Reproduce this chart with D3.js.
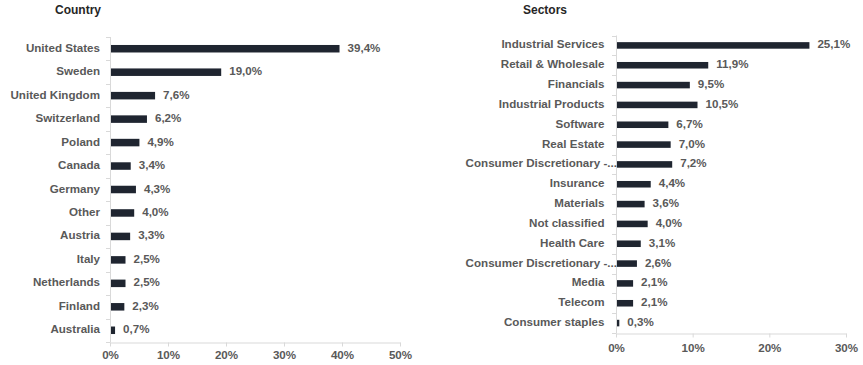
<!DOCTYPE html>
<html>
<head>
<meta charset="utf-8">
<script src="https://cdn.jsdelivr.net/npm/d3@7"></script>
<style>
  html, body { margin: 0; padding: 0; background: #ffffff; }
  svg { display: block; }
  text { font-family: "Liberation Sans", Arial, sans-serif; font-weight: bold; }
</style>
</head>
<body>
<svg id="chart" width="863" height="365"></svg>
<script>
// ---- data ----
const countryTitle = "Country";
const countries = ["United States", "Sweden", "United Kingdom", "Switzerland", "Poland", "Canada", "Germany", "Other", "Austria", "Italy", "Netherlands", "Finland", "Australia"];
const countryValues = [39.4, 19.0, 7.6, 6.2, 4.9, 3.4, 4.3, 4.0, 3.3, 2.5, 2.5, 2.3, 0.7];
const countryTicks = [0, 10, 20, 30, 40, 50];

const sectorTitle = "Sectors";
const sectors = ["Industrial Services", "Retail & Wholesale", "Financials", "Industrial Products", "Software", "Real Estate", "Consumer Discretionary -...", "Insurance", "Materials", "Not classified", "Health Care", "Consumer Discretionary -... ", "Media", "Telecom", "Consumer staples"];
const sectorValues = [25.1, 11.9, 9.5, 10.5, 6.7, 7.0, 7.2, 4.4, 3.6, 4.0, 3.1, 2.6, 2.1, 2.1, 0.3];
const sectorTicks = [0, 10, 20, 30];

const BAR = "#1f2530";
const LABEL = "#595959";
const TITLE = "#262626";
const AXIS = "#d9d9d9";
const FS = "11.6px";

const svg = d3.select("#chart");
const fmt = v => d3.format(".1f")(v).replace(".", ",") + "%";

function panel(opts) {
  const g = svg.append("g");
  const x = d3.scaleLinear().domain([0, opts.max]).range([opts.x0, opts.x1]);
  const y = d3.scaleBand().domain(opts.cats).range([opts.y0, opts.y1])
    .paddingInner(opts.pad).paddingOuter(opts.pad / 2);
  const step = y.step();

  // title
  g.append("text").attr("x", opts.titleX).attr("y", 11)
    .attr("dominant-baseline", "middle").attr("fill", TITLE)
    .style("font-size", "12px").text(opts.title);

  // vertical axis line
  g.append("line").attr("x1", opts.x0 + 0.5).attr("x2", opts.x0 + 0.5)
    .attr("y1", opts.y0).attr("y2", opts.y1).attr("stroke", AXIS);
  // category tick marks at band boundaries
  const bounds = d3.range(opts.cats.length + 1).map(i => opts.y0 + i * step);
  g.selectAll(".ct").data(bounds).join("line")
    .attr("x1", opts.x0 - 4).attr("x2", opts.x0 + 0.5)
    .attr("y1", d => Math.round(d) + 0.5).attr("y2", d => Math.round(d) + 0.5)
    .attr("stroke", AXIS);

  // horizontal axis
  const ax = g.append("g").attr("transform", `translate(0,${Math.round(opts.y1) + 0.5})`)
    .call(d3.axisBottom(x).tickValues(opts.ticks).tickSize(4).tickSizeOuter(0)
      .tickFormat(d => d + "%"));
  ax.select(".domain").attr("stroke", AXIS);
  ax.selectAll(".tick line").attr("stroke", AXIS);
  ax.selectAll(".tick text").attr("fill", LABEL).style("font-size", FS)
    .style("font-family", "'Liberation Sans', Arial, sans-serif").style("font-weight", "bold")
    .attr("y", opts.tickY - opts.y1).attr("dy", "0.35em");

  // bars
  g.selectAll(".bar").data(opts.vals).join("rect")
    .attr("x", x(0) + 1)
    .attr("y", (d, i) => y(opts.cats[i]))
    .attr("width", d => x(d) - x(0))
    .attr("height", y.bandwidth())
    .attr("fill", BAR);

  // category labels
  g.selectAll(".cl").data(opts.cats).join("text")
    .attr("x", d => d.includes("-...") ? opts.x0 + 1 : opts.x0 - opts.labelGap)
    .attr("y", d => y(d) + y.bandwidth() / 2)
    .attr("text-anchor", "end").attr("dominant-baseline", "middle")
    .attr("fill", LABEL).style("font-size", FS)
    .text(d => d.trim());

  // value labels
  g.selectAll(".vl").data(opts.vals).join("text")
    .attr("x", d => x(d) + 9)
    .attr("y", (d, i) => y(opts.cats[i]) + y.bandwidth() / 2)
    .attr("dominant-baseline", "middle")
    .attr("fill", LABEL).style("font-size", FS)
    .text(fmt);
}

panel({ title: countryTitle, titleX: 55, cats: countries, vals: countryValues, ticks: countryTicks,
  max: 50, x0: 110, x1: 400, y0: 37, y1: 342, pad: 0.68, tickY: 354, labelGap: 10 });

panel({ title: sectorTitle, titleX: 523, cats: sectors, vals: sectorValues, ticks: sectorTicks,
  max: 30, x0: 616, x1: 846, y0: 35.5, y1: 333, pad: 0.67, tickY: 347, labelGap: 11.5 });
</script>
</body>
</html>
